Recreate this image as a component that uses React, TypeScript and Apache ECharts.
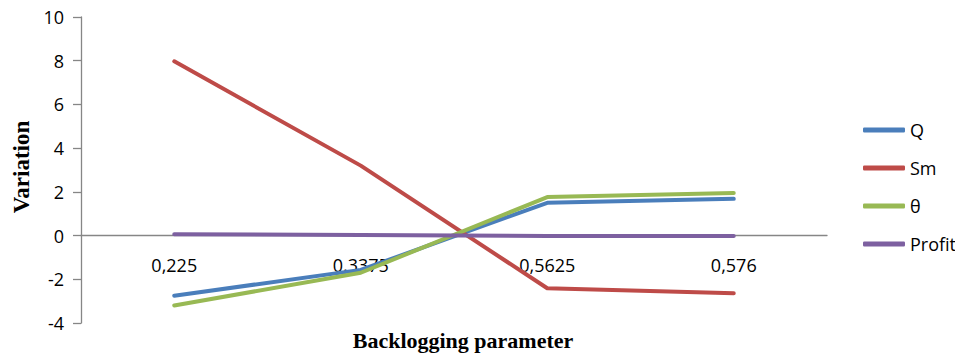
import React, { useEffect, useRef } from "react";
import * as echarts from "echarts";

// Backlogging parameter values on the category axis
const categories = ["0,225", "0,3375", "0,5625", "0,576"];

// Variation of each quantity per parameter value
const qValues = [-2.75, -1.57, 1.5, 1.68];
const smValues = [7.97, 3.2, -2.41, -2.64];
const thetaValues = [-3.2, -1.7, 1.76, 1.95];
const profitValues = [0.06, 0.03, -0.02, -0.02];

const yTicks = [-4, -2, 0, 2, 4, 6, 8, 10];

const seriesDefs = [
  { name: "Q", data: qValues, color: "#4A7EBB" },
  { name: "Sm", data: smValues, color: "#BE4B48" },
  { name: "θ", data: thetaValues, color: "#98B954" },
  { name: "Profit", data: profitValues, color: "#7D60A0" },
];

export default function App() {
  const ref = useRef<HTMLDivElement>(null);

  useEffect(() => {
    if (!ref.current) return;
    const chart = echarts.init(ref.current, undefined, { renderer: "svg" });
    const sansFont = "'Open Sans', sans-serif";
    const serifFont = "'Liberation Serif', 'Times New Roman', serif";

    chart.setOption({
      animation: false,
      backgroundColor: "#ffffff",
      grid: {
        left: 81,
        right: 128,
        top: 17,
        bottom: 31,
        containLabel: false,
        outerBoundsMode: "none",
      },
      legend: {
        orient: "vertical",
        left: 858,
        top: 115,
        icon: "roundRect",
        itemWidth: 42,
        itemHeight: 5,
        itemGap: 18,
        textStyle: {
          fontFamily: sansFont,
          fontSize: 18,
          color: "#000",
          lineHeight: 20,
        },
        data: seriesDefs.map((s) => s.name),
      },
      xAxis: {
        type: "category",
        data: categories,
        boundaryGap: true,
        z: 3,
        axisLine: { onZero: true, lineStyle: { color: "#868686", width: 1.3 } },
        axisTick: { show: false },
        // category labels sit just under the zero line
        axisLabel: {
          color: "#000",
          fontFamily: sansFont,
          fontSize: 18,
          margin: -67,
        },
        splitLine: { show: false },
      },
      yAxis: {
        type: "value",
        min: yTicks[0],
        max: yTicks[yTicks.length - 1],
        interval: 2,
        axisLine: { show: true, lineStyle: { color: "#868686", width: 1.3 } },
        axisTick: { show: true, length: 8, lineStyle: { color: "#868686", width: 1.3 } },
        axisLabel: {
          color: "#000",
          fontFamily: sansFont,
          fontSize: 18,
          margin: 17,
        },
        splitLine: { show: false },
      },
      series: seriesDefs.map((s) => ({
        name: s.name,
        type: "line",
        data: s.data,
        symbol: "none",
        color: s.color,
        lineStyle: { color: s.color, width: 4, cap: "round", join: "round" },
      })),
      graphic: [
        {
          type: "text",
          x: 21,
          y: 167,
          rotation: Math.PI / 2,
          style: {
            text: "Variation",
            font: `bold 23px ${serifFont}`,
            fill: "#000",
            align: "center",
            verticalAlign: "middle",
          },
        },
        {
          type: "text",
          x: 463,
          y: 340,
          style: {
            text: "Backlogging parameter",
            font: `bold 22px ${serifFont}`,
            fill: "#000",
            align: "center",
            verticalAlign: "middle",
          },
        },
      ],
    });

    return () => chart.dispose();
  }, []);

  return <div ref={ref} style={{ width: 955, height: 354, position: "absolute", left: 0, top: 0 }} />;
}
